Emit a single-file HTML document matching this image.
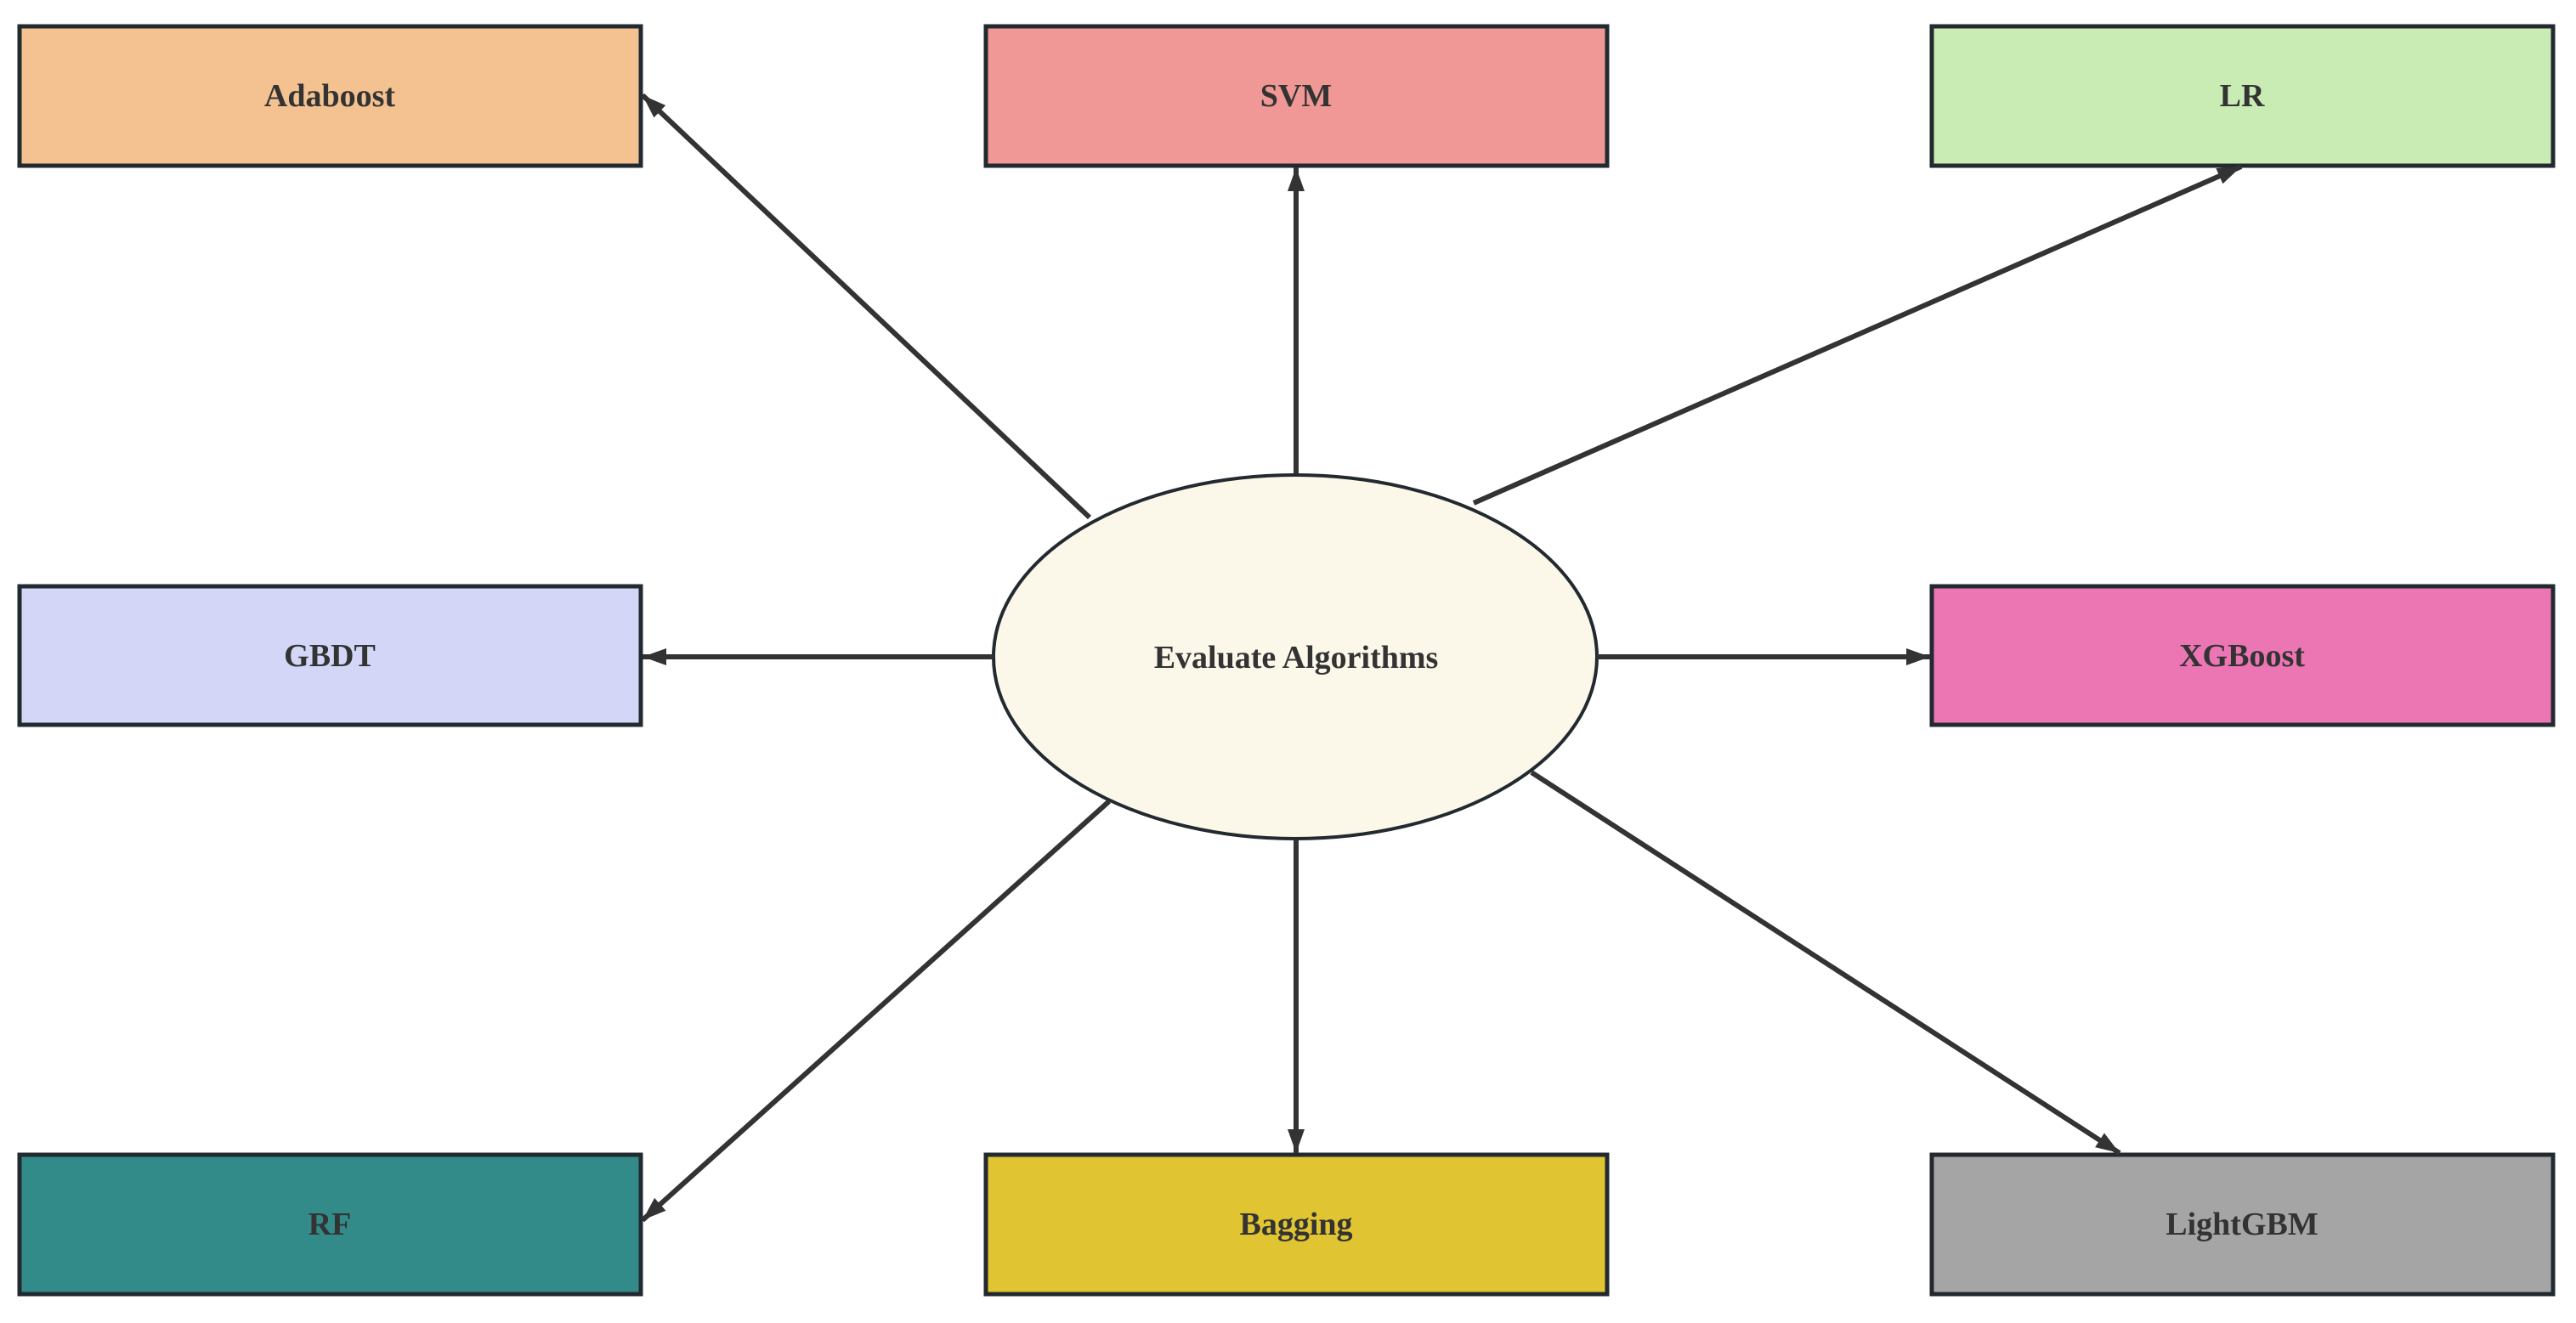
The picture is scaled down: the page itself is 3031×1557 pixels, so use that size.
<!DOCTYPE html>
<html><head><meta charset="utf-8"><style>html,body{margin:0;padding:0;background:#fff}svg{display:block}</style></head>
<body>
<svg width="3031" height="1557" viewBox="0 0 3031 1557" xmlns="http://www.w3.org/2000/svg">
<defs>
<marker id="a" markerUnits="userSpaceOnUse" markerWidth="30" markerHeight="24" refX="28" refY="12" orient="auto">
<path d="M0,2 L28,12 L0,22 Z" fill="#333"/>
</marker>
</defs>
<g stroke="#222a30" stroke-width="5">
<rect x="23" y="31" width="731" height="164" fill="#F4C290"/>
<rect x="1160" y="31" width="731" height="164" fill="#F09896"/>
<rect x="2273" y="31" width="731" height="164" fill="#C9ECB4"/>
<rect x="23" y="690" width="731" height="163" fill="#D3D6F6"/>
<rect x="2273" y="690" width="731" height="163" fill="#EC76B4"/>
<rect x="23" y="1359" width="731" height="164" fill="#338B89"/>
<rect x="1160" y="1359" width="731" height="164" fill="#E0C432"/>
<rect x="2273" y="1359" width="731" height="164" fill="#A5A5A5"/>
<ellipse cx="1524" cy="773" rx="355" ry="214" fill="#FBF8EA" stroke-width="4"/>
</g>
<g stroke="#333" stroke-width="6" marker-end="url(#a)" fill="none">
<line x1="1282" y1="609" x2="756" y2="112"/>
<line x1="1525" y1="557" x2="1525" y2="197"/>
<line x1="1734" y1="592" x2="2637" y2="196"/>
<line x1="1169" y1="773" x2="756" y2="773"/>
<line x1="1879" y1="773" x2="2271" y2="773"/>
<line x1="1305" y1="943" x2="756" y2="1436"/>
<line x1="1525" y1="988" x2="1525" y2="1357"/>
<line x1="1802" y1="909" x2="2494" y2="1357"/>
</g>
<g font-family="Liberation Serif, serif" font-weight="bold" font-size="38" fill="#333" text-anchor="middle" dominant-baseline="central">
<text x="388" y="113">Adaboost</text>
<text x="1525" y="113">SVM</text>
<text x="2638" y="113">LR</text>
<text x="388" y="772">GBDT</text>
<text x="2638" y="772">XGBoost</text>
<text x="388" y="1441">RF</text>
<text x="1525" y="1441">Bagging</text>
<text x="2638" y="1441">LightGBM</text>
<text x="1525" y="774">Evaluate Algorithms</text>
</g>
</svg>
</body></html>
